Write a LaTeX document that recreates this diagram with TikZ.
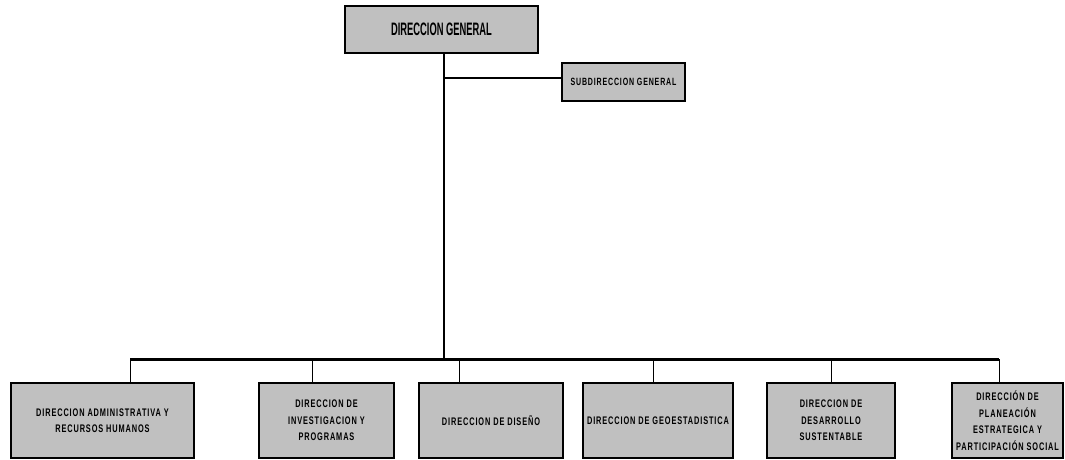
\documentclass[tikz,border=0pt]{standalone}
\usepackage{fontspec}
\newfontfamily\titlefont[FakeStretch=0.52]{Liberation Sans}
\newfontfamily\boxfont[FakeStretch=0.67,LetterSpace=8]{Liberation Sans}
\begin{document}
\begin{tikzpicture}[x=1pt,y=-1pt,
  unit/.style={draw=black,line width=2.8pt,fill={rgb,255:red,192;green,192;blue,192},
    rectangle,inner sep=0pt,align=center,text=black},
  bottombox/.style={unit,minimum height=75pt,font=\boxfont\bfseries\fontsize{11pt}{16.5pt}\selectfont},
  drop/.style={line width=1pt},
  bus/.style={line width=3pt}]
\useasboundingbox (0,0) rectangle (1065,459);
\node[unit,minimum width=193pt,minimum height=47pt,font=\titlefont\bfseries\fontsize{18pt}{20pt}\selectfont] (dg) at (441.5,29.5) {DIRECCION GENERAL};
\node[unit,minimum width=123pt,minimum height=38pt,font=\boxfont\bfseries\fontsize{10.5pt}{12pt}\selectfont] (sub) at (623.5,82) {SUBDIRECCION GENERAL};
\node[bottombox,minimum width=183pt] (b1) at (102.5,420.5) {DIRECCION ADMINISTRATIVA Y\\RECURSOS HUMANOS};
\node[bottombox,minimum width=135pt] (b2) at (326.5,420.5) {DIRECCION DE\\INVESTIGACION Y\\PROGRAMAS};
\node[bottombox,minimum width=144pt] (b3) at (491,420.5) {DIRECCION DE DISEÑO};
\node[bottombox,minimum width=150pt] (b4) at (658,420.5) {DIRECCION DE GEOESTADISTICA};
\node[bottombox,minimum width=128pt] (b5) at (831,420.5) {DIRECCION DE\\DESARROLLO\\SUSTENTABLE};
\node[bottombox,minimum width=111pt] (b6) at (1007.5,420.5) {DIRECCIÓN DE\\PLANEACIÓN\\ESTRATEGICA Y\\PARTICIPACIÓN SOCIAL};
% trunk
\coordinate (j) at (444,78);
\coordinate (busL) at (130,359);
\coordinate (busR) at (999,359);
\draw[line width=1.2pt] (dg.south -| j) -- (j |- busL);
\draw[line width=2pt] (j) -- (sub.west |- j);
\draw[bus] (busL) -- (busR);
\coordinate (d1) at (130,359);
\coordinate (d2) at (312,359);
\coordinate (d3) at (459,359);
\coordinate (d4) at (653,359);
\coordinate (d5) at (831,359);
\coordinate (d6) at (999,359);
\draw[drop] (d1) -- (d1 |- b1.north);
\draw[drop] (d2) -- (d2 |- b2.north);
\draw[drop] (d3) -- (d3 |- b3.north);
\draw[drop] (d4) -- (d4 |- b4.north);
\draw[drop] (d5) -- (d5 |- b5.north);
\draw[drop] (d6) -- (d6 |- b6.north);
\end{tikzpicture}
\end{document}
